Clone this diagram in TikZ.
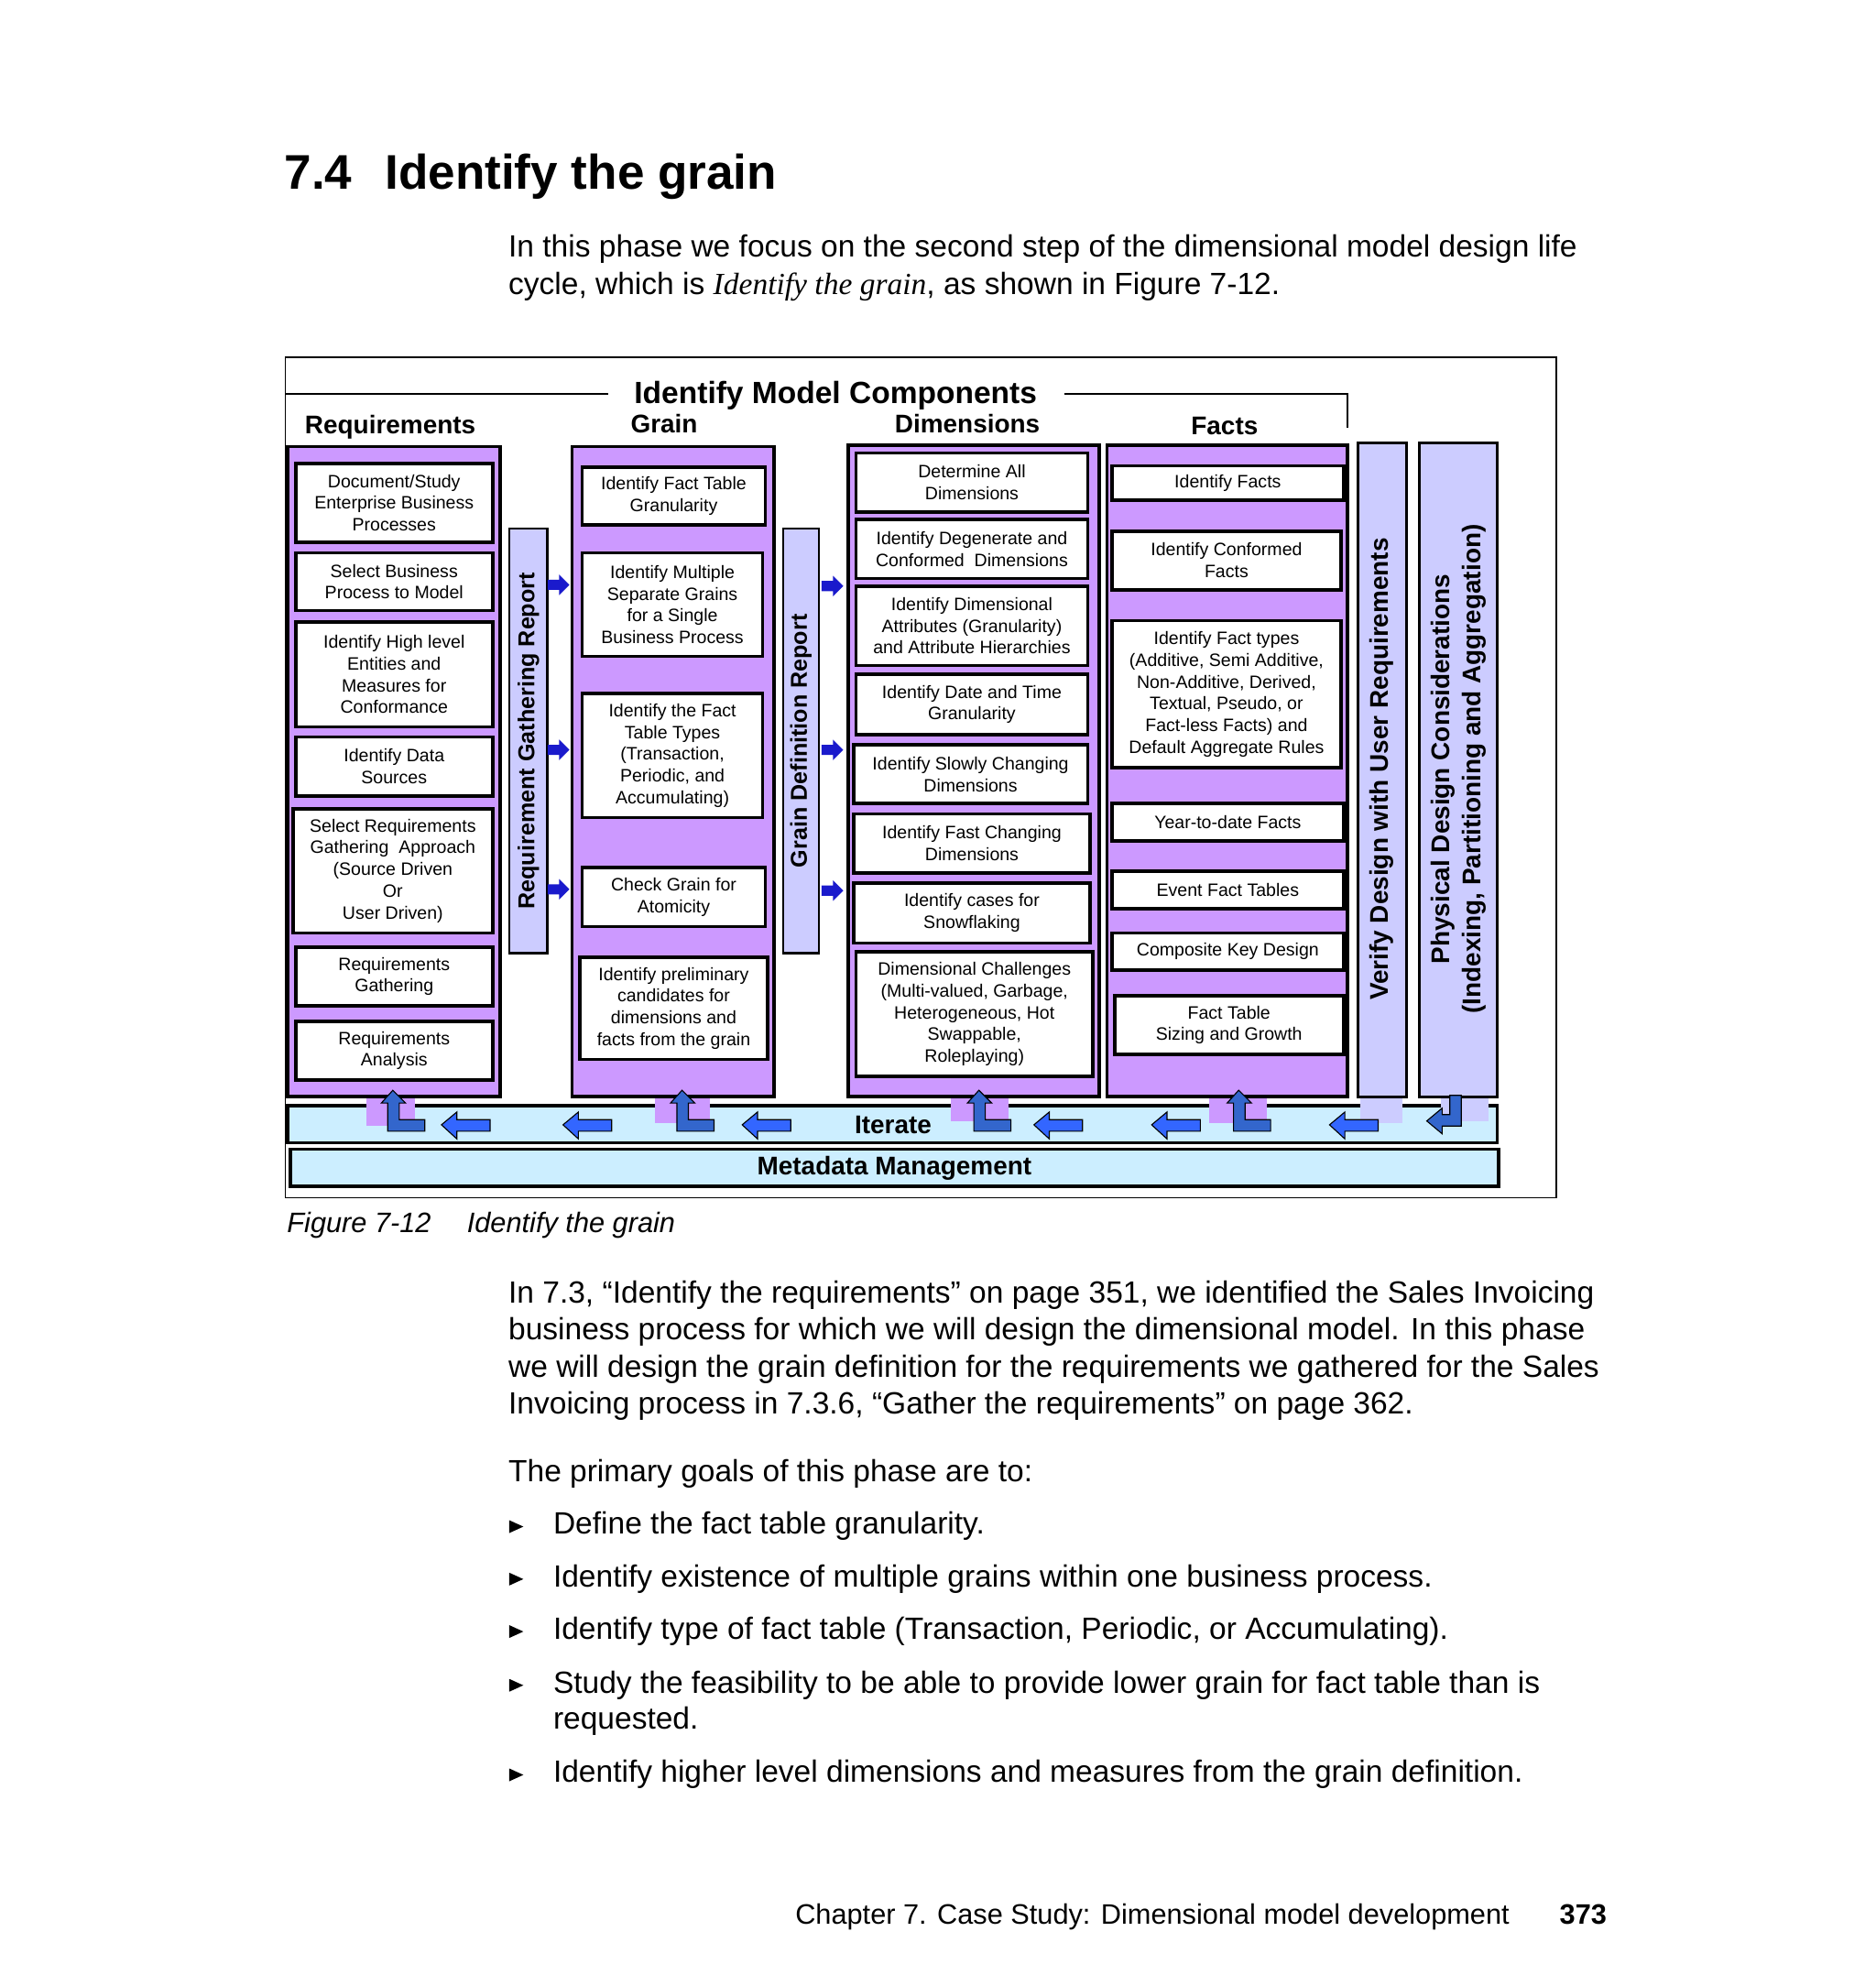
\documentclass[tikz,border=0pt]{standalone}
\usepackage{fontspec}
\setmainfont{Liberation Sans}
\newfontfamily\serifit{Liberation Serif}
\definecolor{colp}{HTML}{CC99FF}
\definecolor{lav}{HTML}{CCCCFF}
\definecolor{lblue}{HTML}{CCEEFF}
\definecolor{arr}{HTML}{3366FF}
\definecolor{arrd}{HTML}{3366CC}
\definecolor{arrn}{HTML}{1A1ACC}
\tikzset{
 wbox/.style={draw=black,line width=1.3pt,fill=white},
 col/.style={draw=black,line width=1.3pt,fill=colp},
 bar/.style={draw=black,line width=1pt,fill=lav},
 blu/.style={draw=black,line width=1.3pt,fill=lblue},
 tx/.style={align=center,font=\fontsize{7}{8.5}\selectfont,inner sep=0pt},
 hd/.style={font=\fontsize{10}{12}\selectfont\bfseries,inner sep=0pt},
 vt/.style={rotate=90,align=center,font=\fontsize{9}{11}\selectfont\bfseries,inner sep=0pt},
 la/.style={fill=arr,draw=black,line width=0.4pt},
 ld/.style={fill=arrd,draw=black,line width=0.4pt},
 ra/.style={fill=arrn,draw=none},
 body/.style={anchor=base west,inner sep=0pt,font=\fontsize{12}{14.5}\selectfont},
}
\newcommand{\bx}[6]{\draw[wbox] (#2,#3) rectangle (#4,#5); \node[tx] (#1) at ({(#2+#4)/2},{(#3+#5)/2}) {#6};}
\newcommand{\larr}[2]{\draw[la] (#1,#2) -- ++(12,-10) -- ++(0,6) -- ++(26,0) -- ++(0,9) -- ++(-26,0) -- ++(0,6) -- cycle;}
\newcommand{\rarr}[2]{\fill[ra] (#1,#2) ++(0,-4) -- ++(9,0) -- ++(0,-4) -- ++(8,8) -- ++(-8,8) -- ++(0,-4) -- ++(-9,0) -- cycle;}
\newcommand{\uarr}[2]{\draw[ld] (#1,#2) -- ++(10,10) -- ++(-5,0) -- ++(0,13) -- ++(20,0) -- ++(0,9) -- ++(-29,0) -- ++(0,-22) -- ++(-5,0) -- cycle;}
\begin{document}
\begin{tikzpicture}[x=0.5pt,y=-0.5pt]
\useasboundingbox[fill=white] (0,0) rectangle (1466,1552);
% header text
\node[anchor=base west,inner sep=0pt,font=\fontsize{19}{23}\selectfont\bfseries] (h) at (222,148) {7.4\hspace{0.4em} Identify the grain};
\node[body] (p1) at (397,201) {In this phase we focus on the second step of the dimensional model design life};
\node[body] (p2) at (397,230) {cycle, which is {\serifit\itshape Identify the grain}, as shown in Figure 7-12.};
% frame
\draw[line width=0.6pt] (223,279) rectangle (1216,936);
\draw[line width=0.8pt] (223,308) -- (475,308);
\draw[line width=0.8pt] (832,308) -- (1053,308) -- (1053,334);
\node[font=\fontsize{12}{14}\selectfont\bfseries,inner sep=0pt] (title) at (653,309) {Identify Model Components};
\node[hd] (hr) at (305,334) {Requirements};
\node[hd] (hg) at (519,331) {Grain};
\node[hd] (hdim) at (756,331) {Dimensions};
\node[hd] (hf) at (957,333) {Facts};
% tabs
\fill[colp] (286,850) rectangle (324,880);
\fill[colp] (512,850) rectangle (555,878);
\fill[colp] (743,850) rectangle (788,876);
\fill[colp] (945,850) rectangle (990,878);
% bars
\draw[blu] (225,864) rectangle (1170,893);
\fill[lav] (1063,850) rectangle (1096,878);
\fill[lav] (1126,850) rectangle (1163,876);
\fill[colp] (286,856) rectangle (324,880);
\fill[colp] (512,856) rectangle (555,878);
\fill[colp] (743,856) rectangle (788,876);
\fill[colp] (945,856) rectangle (990,878);
\fill[lav] (1063,856) rectangle (1096,878);
\fill[lav] (1126,856) rectangle (1163,876);
\node[font=\fontsize{10}{12}\selectfont\bfseries,inner sep=0pt] (iter) at (698,879) {Iterate};
\draw[blu] (227,898) rectangle (1171,927);
\node[font=\fontsize{10}{12}\selectfont\bfseries,inner sep=0pt] (meta) at (699,913) {Metadata Management};
% columns
\draw[col] (225,349) rectangle (391,857);
\draw[col] (447,349) rectangle (605,857);
\draw[col] (663,348) rectangle (859,857);
\draw[col] (865,348) rectangle (1053,857);
\draw[bar] (398,413) rectangle (428,745);
\node[vt] (rgr) at (413,579) {Requirement Gathering Report};
\draw[bar] (612,413) rectangle (640,745);
\node[vt] (gdr) at (626,579) {Grain Definition Report};
\draw[bar] (1061,346) rectangle (1099,857);
\node[vt,font=\fontsize{10}{12}\selectfont\bfseries] (vd) at (1080,601) {Verify Design with User Requirements};
\draw[bar] (1109,346) rectangle (1170,857);
\node[vt,font=\fontsize{10}{12}\selectfont\bfseries] (pd) at (1140,601) {Physical Design Considerations\\(Indexing, Partitioning and Aggregation)};
% small arrows
\rarr{428}{457}\rarr{428}{586}\rarr{428}{695}
\rarr{642}{458}\rarr{642}{586}\rarr{642}{696}
% requirements
\bx{r1}{231}{362}{385}{424}{Document/Study\\Enterprise Business\\Processes}
\bx{r2}{231}{432}{385}{477}{Select Business\\Process to Model}
\bx{r3}{231}{486}{385}{568}{Identify High level\\Entities and\\Measures for\\Conformance}
\bx{r4}{231}{576}{385}{622}{Identify Data\\Sources}
\bx{r5}{229}{632}{385}{729}{Select Requirements\\Gathering\ \ Approach\\(Source Driven\\Or\\User Driven)}
\bx{r6}{231}{740}{385}{786}{Requirements\\Gathering}
\bx{r7}{231}{798}{385}{844}{Requirements\\Analysis}
% grain
\bx{g1}{455}{365}{598}{410}{Identify Fact Table\\Granularity}
\bx{g2}{455}{432}{596}{513}{Identify Multiple\\Separate Grains\\for a Single\\Business Process}
\bx{g3}{455}{542}{596}{639}{Identify the Fact\\Table Types\\(Transaction,\\Periodic, and\\Accumulating)}
\bx{g4}{455}{678}{598}{724}{Check Grain for\\Atomicity}
\bx{g5}{453}{748}{600}{828}{Identify preliminary\\candidates for\\dimensions and\\facts from the grain}
% dimensions
\bx{d1}{669}{354}{850}{400}{Determine All\\Dimensions}
\bx{d2}{669}{406}{850}{452}{Identify Degenerate and\\Conformed\ \ Dimensions}
\bx{d3}{669}{458}{850}{520}{Identify Dimensional\\Attributes (Granularity)\\and Attribute Hierarchies}
\bx{d4}{669}{527}{850}{574}{Identify Date and Time\\Granularity}
\bx{d5}{667}{582}{850}{628}{Identify Slowly Changing\\Dimensions}
\bx{d6}{667}{636}{852}{682}{Identify Fast Changing\\Dimensions}
\bx{d7}{667}{690}{852}{737}{Identify cases for\\Snowflaking}
\bx{d8}{669}{744}{854}{841}{Dimensional Challenges\\(Multi-valued, Garbage,\\Heterogeneous, Hot\\Swappable,\\Roleplaying)}
% facts
\bx{f1}{869}{364}{1050}{391}{Identify Facts}
\bx{f2}{869}{415}{1048}{461}{Identify Conformed\\Facts}
\bx{f3}{869}{485}{1048}{600}{Identify Fact types\\(Additive, Semi Additive,\\Non-Additive, Derived,\\Textual, Pseudo, or\\Fact-less Facts) and\\Default Aggregate Rules}
\bx{f4}{869}{628}{1050}{657}{Year-to-date Facts}
\bx{f5}{869}{681}{1050}{710}{Event Fact Tables}
\bx{f6}{869}{729}{1050}{758}{Composite Key Design}
\bx{f7}{871}{778}{1050}{824}{Fact Table\\Sizing and Growth}
% iterate arrows
\larr{345}{879}\larr{440}{879}\larr{580}{879}\larr{808}{879}\larr{900}{879}\larr{1039}{879}
\uarr{307}{852}\uarr{533}{852}\uarr{765}{852}\uarr{968}{852}
\draw[ld] (1115,876) -- ++(12,-10) -- ++(0,5) -- ++(6,0) -- ++(0,-15) -- ++(9,0) -- ++(0,24) -- ++(-15,0) -- ++(0,6) -- cycle;
% caption
\node[anchor=base west,inner sep=0pt,font=\fontsize{11}{13}\selectfont\itshape] (cap) at (224,963) {Figure 7-12\hspace{1em} Identify the grain};
% body
\node[body] (b1) at (397,1018) {In 7.3, “Identify the requirements” on page 351, we identified the Sales Invoicing};
\node[body] (b2) at (397,1047) {business process for which we will design the dimensional model. In this phase};
\node[body] (b3) at (397,1076) {we will design the grain definition for the requirements we gathered for the Sales};
\node[body] (b4) at (397,1105) {Invoicing process in 7.3.6, “Gather the requirements” on page 362.};
\node[body] (b5) at (397,1158) {The primary goals of this phase are to:};
\foreach \yy/\tt [count=\i] in {1199/{Define the fact table granularity.},1240/{Identify existence of multiple grains within one business process.},1281/{Identify type of fact table (Transaction, Periodic, or Accumulating).},1323/{Study the feasibility to be able to provide lower grain for fact table than is},1393/{Identify higher level dimensions and measures from the grain definition.}}{
 \node[body] (bl\i) at (432,\yy) {\tt};
 \fill (398,\yy-11) -- (409,\yy-6) -- (398,\yy-1) -- cycle;
}
\node[body] (bl6) at (432,1351) {requested.};
% footer
\node[anchor=base east,inner sep=0pt,font=\fontsize{11}{13}\selectfont] (ft) at (1180,1504) {Chapter 7. Case Study: Dimensional model development};
\node[anchor=base east,inner sep=0pt,font=\fontsize{11}{13}\selectfont\bfseries] (pg) at (1256,1504) {373};
\end{tikzpicture}
\end{document}
